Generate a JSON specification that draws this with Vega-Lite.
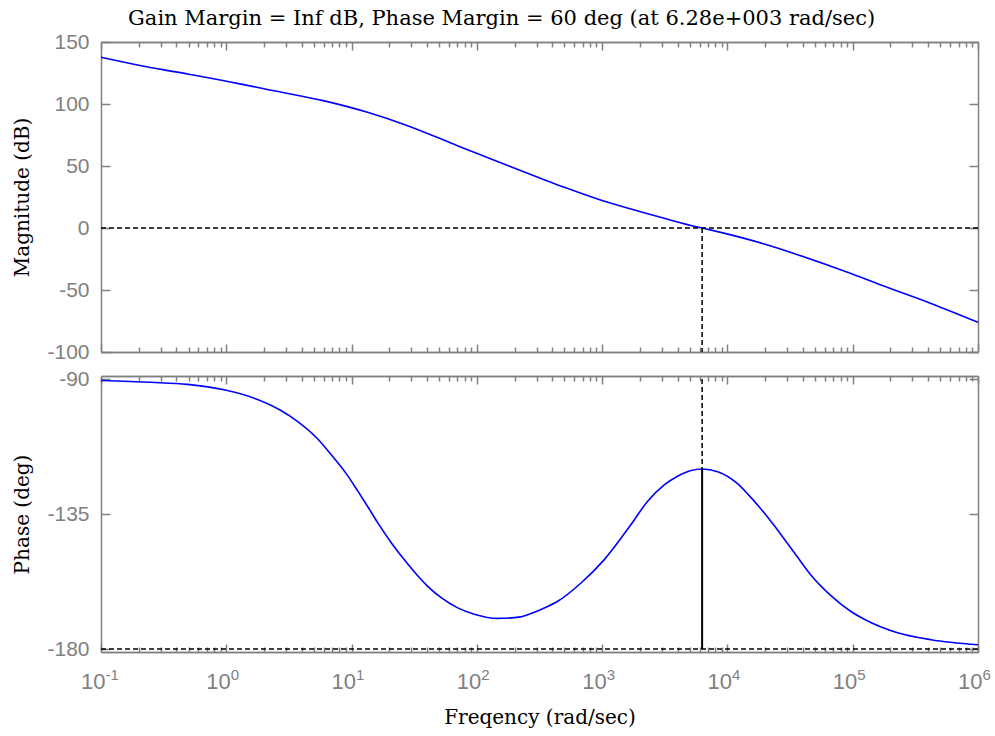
{
  "$schema": "https://vega.github.io/schema/vega-lite/v6.json",
  "padding": {"left": 12, "top": 8, "right": 10, "bottom": 5},
  "background": "white",
  "title": {"text": "Gain Margin = Inf dB, Phase Margin = 60 deg (at 6.28e+003 rad/sec)", "anchor": "middle", "font": "DejaVu Serif", "fontSize": 21, "fontWeight": "normal", "color": "#000000", "offset": 2},
  "datasets": {
    "mag": [
      {"f": 0.1, "db": 137.7}, {"f": 0.21, "db": 130.9}, {"f": 0.385, "db": 126.1}, {"f": 0.96, "db": 118.8},
      {"f": 2.4, "db": 110.7}, {"f": 6.05, "db": 102.5}, {"f": 13.4, "db": 93.3}, {"f": 28, "db": 82.5},
      {"f": 70, "db": 66.4}, {"f": 130, "db": 55.6}, {"f": 325, "db": 40.0}, {"f": 500, "db": 32.8},
      {"f": 918, "db": 23.4}, {"f": 1700, "db": 15.3}, {"f": 3130, "db": 7.8}, {"f": 5780, "db": 0.8},
      {"f": 6280, "db": 0}, {"f": 8360, "db": -2.9}, {"f": 19700, "db": -12.9}, {"f": 36300, "db": -21.5},
      {"f": 91000, "db": -35.7}, {"f": 168000, "db": -46.0}, {"f": 421000, "db": -60.8}, {"f": 1000000, "db": -76}
    ],
    "phase": [
      {"f": 0.1, "deg": -90.5}, {"f": 0.25, "deg": -91.1}, {"f": 0.49, "deg": -91.8}, {"f": 0.96, "deg": -93.6},
      {"f": 1.67, "deg": -96.4}, {"f": 2.73, "deg": -100.5}, {"f": 3.72, "deg": -104.2}, {"f": 5.37, "deg": -110.0},
      {"f": 6.86, "deg": -115.2}, {"f": 9.3, "deg": -122.2}, {"f": 11.2, "deg": -127.3}, {"f": 13.4, "deg": -132.4},
      {"f": 16.1, "deg": -137.8}, {"f": 20.6, "deg": -144.4}, {"f": 26.3, "deg": -150.2}, {"f": 33.7, "deg": -155.6},
      {"f": 40.5, "deg": -159.1}, {"f": 51.6, "deg": -162.8}, {"f": 70.3, "deg": -166.3}, {"f": 95.3, "deg": -168.4},
      {"f": 146.6, "deg": -169.8}, {"f": 225, "deg": -169.3}, {"f": 270, "deg": -168.2}, {"f": 325, "deg": -166.8},
      {"f": 442, "deg": -164.1}, {"f": 678, "deg": -158}, {"f": 1040, "deg": -150.2}, {"f": 1700, "deg": -138.5},
      {"f": 2300, "deg": -130.8}, {"f": 3130, "deg": -125.3}, {"f": 4000, "deg": -122.4}, {"f": 5120, "deg": -120.5},
      {"f": 6280, "deg": -120}, {"f": 8360, "deg": -120.9}, {"f": 12050, "deg": -124.9}, {"f": 14500, "deg": -128.3},
      {"f": 19700, "deg": -134.7}, {"f": 26700, "deg": -141.8}, {"f": 36000, "deg": -149.2}, {"f": 46500, "deg": -155.4},
      {"f": 67000, "deg": -162.2}, {"f": 96800, "deg": -167.5}, {"f": 123600, "deg": -170.1}, {"f": 228000, "deg": -174.6},
      {"f": 421000, "deg": -176.9}, {"f": 1000000, "deg": -178.6}
    ],
    "margin": [{"wc": 6280, "phase_wc": -120, "fmin": 0.1, "fmax": 1000000, "mag_ref": 0, "mag_min": -100, "phase_ref": -180, "phase_top": -90}]
  },
  "vconcat": [
    {
      "width": 877,
      "height": 310,
      "resolve": {"axis": {"x": "independent", "y": "independent"}},
      "layer": [
        {
          "data": {"name": "mag"},
          "mark": {"type": "line", "color": "#0000ff", "strokeWidth": 1.6, "interpolate": "monotone"},
          "encoding": {
            "x": {"field": "f", "type": "quantitative", "scale": {"type": "log", "domain": [0.1, 1000000], "nice": false},
                  "axis": {"orient": "bottom", "values": [0.1, 1, 10, 100, 1000, 10000, 100000, 1000000], "labels": false, "tickSize": -8, "title": null}},
            "y": {"field": "db", "type": "quantitative", "scale": {"domain": [-100, 150], "nice": false, "zero": false},
                  "axis": {"orient": "left", "values": [-100, -50, 0, 50, 100, 150], "labelExpr": "'' + datum.value", "tickSize": -9, "labelPadding": 21, "title": "Magnitude (dB)", "titlePadding": 14}}
          }
        },
        {
          "data": {"name": "margin"},
          "mark": {"type": "rule", "color": "#000000", "strokeWidth": 1.5, "strokeDash": [5, 3]},
          "encoding": {
            "x": {"field": "fmin", "type": "quantitative",
                  "axis": {"orient": "bottom", "values": [0.2,0.3,0.4,0.5,0.6,0.7,0.8,0.9,2,3,4,5,6,7,8,9,20,30,40,50,60,70,80,90,200,300,400,500,600,700,800,900,2000,3000,4000,5000,6000,7000,8000,9000,20000,30000,40000,50000,60000,70000,80000,90000,200000,300000,400000,500000,600000,700000,800000,900000], "labels": false, "tickSize": -5, "title": null}},
            "x2": {"field": "fmax"},
            "y": {"field": "mag_ref", "type": "quantitative",
                  "axis": {"orient": "right", "values": [-100, -50, 0, 50, 100, 150], "labels": false, "tickSize": -9, "title": null}}
          }
        },
        {
          "data": {"name": "margin"},
          "mark": {"type": "rule", "color": "#000000", "strokeWidth": 1.5, "strokeDash": [5, 3]},
          "encoding": {
            "x": {"field": "wc", "type": "quantitative",
                  "axis": {"orient": "top", "values": [0.1, 1, 10, 100, 1000, 10000, 100000, 1000000], "labels": false, "tickSize": -8, "title": null}},
            "y": {"field": "mag_ref", "type": "quantitative", "axis": null},
            "y2": {"field": "mag_min"}
          }
        },
        {
          "data": {"name": "mag"},
          "mark": {"type": "line", "strokeOpacity": 0},
          "encoding": {
            "x": {"field": "f", "type": "quantitative",
                  "axis": {"orient": "top", "values": [0.2,0.3,0.4,0.5,0.6,0.7,0.8,0.9,2,3,4,5,6,7,8,9,20,30,40,50,60,70,80,90,200,300,400,500,600,700,800,900,2000,3000,4000,5000,6000,7000,8000,9000,20000,30000,40000,50000,60000,70000,80000,90000,200000,300000,400000,500000,600000,700000,800000,900000], "labels": false, "tickSize": -5, "title": null}},
            "y": {"field": "db", "type": "quantitative", "axis": null}
          }
        }
      ]
    },
    {
      "width": 877,
      "height": 276,
      "resolve": {"axis": {"x": "independent", "y": "independent"}},
      "layer": [
        {
          "data": {"name": "phase"},
          "mark": {"type": "line", "color": "#0000ff", "strokeWidth": 1.6, "interpolate": "monotone"},
          "encoding": {
            "x": {"field": "f", "type": "quantitative", "scale": {"type": "log", "domain": [0.1, 1000000], "nice": false},
                  "axis": {"orient": "bottom", "values": [0.1, 1, 10, 100, 1000, 10000, 100000, 1000000], "labelExpr": "'10'", "labelAlign": "right", "labelOffset": 4, "labelBaseline": "top", "labelFontSize": 22, "tickSize": -8, "labelPadding": 27, "title": "Freqency (rad/sec)", "titlePadding": 15}},
            "y": {"field": "deg", "type": "quantitative", "scale": {"domain": [-181, -89], "nice": false, "zero": false},
                  "axis": {"orient": "left", "values": [-180, -135, -90], "labelExpr": "'' + datum.value", "tickSize": -9, "labelPadding": 21, "title": "Phase (deg)", "titlePadding": 14}}
          }
        },
        {
          "data": {"name": "margin"},
          "mark": {"type": "rule", "color": "#000000", "strokeWidth": 1.5, "strokeDash": [5, 3]},
          "encoding": {
            "x": {"field": "fmin", "type": "quantitative",
                  "axis": {"orient": "bottom", "values": [0.2,0.3,0.4,0.5,0.6,0.7,0.8,0.9,2,3,4,5,6,7,8,9,20,30,40,50,60,70,80,90,200,300,400,500,600,700,800,900,2000,3000,4000,5000,6000,7000,8000,9000,20000,30000,40000,50000,60000,70000,80000,90000,200000,300000,400000,500000,600000,700000,800000,900000], "labels": false, "tickSize": -5, "title": null}},
            "x2": {"field": "fmax"},
            "y": {"field": "phase_ref", "type": "quantitative",
                  "axis": {"orient": "right", "values": [-180, -135, -90], "labels": false, "tickSize": -9, "title": null}}
          }
        },
        {
          "data": {"name": "margin"},
          "mark": {"type": "rule", "color": "#000000", "strokeWidth": 1.5, "strokeDash": [5, 3]},
          "encoding": {
            "x": {"field": "wc", "type": "quantitative",
                  "axis": {"orient": "top", "values": [0.1, 1, 10, 100, 1000, 10000, 100000, 1000000], "labels": false, "tickSize": -8, "title": null}},
            "y": {"field": "phase_top", "type": "quantitative", "axis": null},
            "y2": {"field": "phase_wc"}
          }
        },
        {
          "data": {"name": "margin"},
          "mark": {"type": "rule", "color": "#000000", "strokeWidth": 2},
          "encoding": {
            "x": {"field": "wc", "type": "quantitative",
                  "axis": {"orient": "top", "values": [0.2,0.3,0.4,0.5,0.6,0.7,0.8,0.9,2,3,4,5,6,7,8,9,20,30,40,50,60,70,80,90,200,300,400,500,600,700,800,900,2000,3000,4000,5000,6000,7000,8000,9000,20000,30000,40000,50000,60000,70000,80000,90000,200000,300000,400000,500000,600000,700000,800000,900000], "labels": false, "tickSize": -5, "title": null}},
            "y": {"field": "phase_wc", "type": "quantitative", "axis": null},
            "y2": {"field": "phase_ref"}
          }
        },
        {
          "data": {"name": "phase"},
          "mark": {"type": "line", "strokeOpacity": 0},
          "encoding": {
            "x": {"field": "f", "type": "quantitative",
                  "axis": {"orient": "bottom", "values": [0.1, 1, 10, 100, 1000, 10000, 100000, 1000000], "labelExpr": "'' + round(log(datum.value) / LN10)", "labelAlign": "left", "labelOffset": 4, "labelBaseline": "top", "labelFontSize": 15, "ticks": false, "tickSize": 0, "domain": false, "labelPadding": 15, "title": null}},
            "y": {"field": "deg", "type": "quantitative", "axis": null}
          }
        }
      ]
    }
  ],
  "spacing": 24,
  "bounds": "flush",
  "config": {
    "view": {"stroke": null},
    "axis": {
      "grid": false,
      "domainColor": "#808080",
      "domainWidth": 1.5,
      "tickColor": "#808080",
      "tickWidth": 1.5,
      "labelColor": "#808080",
      "labelFont": "Liberation Sans",
      "labelFontSize": 21,
      "labelFlush": false,
      "labelOverlap": false,
      "titleFont": "DejaVu Serif",
      "titleFontSize": 20,
      "titleFontWeight": "normal",
      "titleColor": "#000000"
    }
  }
}
